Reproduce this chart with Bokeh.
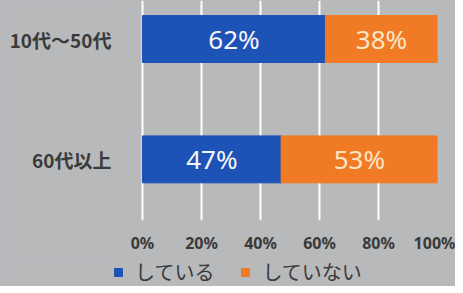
from bokeh.plotting import figure, ColumnDataSource
from bokeh.models import Range1d, FixedTicker, PrintfTickFormatter, Legend, LegendItem
from bokeh.layouts import column
from bokeh.core.properties import value
from bokeh.embed import file_html
from bokeh.resources import INLINE

categories = ["60代以上", "10代〜50代"]
series_names = ["している", "していない"]
doing = [47, 62]
not_doing = [53, 38]
x_ticks = [0, 20, 40, 60, 80, 100]

BG = "#b7b9bb"
BLUE = "#1d52b6"
ORANGE = "#f07b24"

idx = list(range(len(categories)))
src = ColumnDataSource(dict(
    y=idx,
    doing=doing,
    not_doing=not_doing,
    total=[d + n for d, n in zip(doing, not_doing)],
    doing_mid=[d / 2 for d in doing],
    not_mid=[d + n / 2 for d, n in zip(doing, not_doing)],
    doing_lbl=[f"{d}%" for d in doing],
    not_lbl=[f"{n}%" for n in not_doing],
))

# frame spans x=113..437 px so that 0% sits at ~142 px
p = figure(width=455, height=256, output_backend="svg", toolbar_location=None,
           x_range=Range1d(-9.83, 100), y_range=Range1d(-0.508, 1.32),
           min_border_left=113, min_border_right=18, min_border_top=0, min_border_bottom=33)
p.background_fill_color = BG
p.border_fill_color = BG
p.outline_line_color = None

p.hbar(y="y", left=0, right="doing", height=0.39, color=BLUE, source=src)
p.hbar(y="y", left="doing", right="total", height=0.39, color=ORANGE, source=src)

p.text(x="doing_mid", y="y", text="doing_lbl", source=src, text_align="center",
       text_baseline="middle", text_color="#f6f6f6", text_font=value("Noto Sans"),
       text_font_size="26px")
p.text(x="not_mid", y="y", text="not_lbl", source=src, text_align="center",
       text_baseline="middle", text_color="#fbe6c6", text_font=value("Noto Sans"),
       text_font_size="26px")

p.xaxis.ticker = FixedTicker(ticks=x_ticks)
p.xaxis.formatter = PrintfTickFormatter(format="%d%%")
p.xaxis.major_label_text_font = "Noto Sans"
p.xaxis.major_label_text_font_style = "bold"
p.xaxis.major_label_text_font_size = "16px"
p.xaxis.major_label_text_color = "#3a3a3a"
p.xaxis.major_label_standoff = 5

p.yaxis.ticker = FixedTicker(ticks=idx)
p.yaxis.major_label_overrides = {i: c for i, c in zip(idx, categories)}
p.yaxis.major_label_text_font = "Noto Sans CJK JP"
p.yaxis.major_label_text_font_style = "bold"
p.yaxis.major_label_text_font_size = "19px"
p.yaxis.major_label_text_color = "#3a3a3a"
p.yaxis.major_label_standoff = -4

for ax in (p.xaxis, p.yaxis):
    ax.axis_line_color = None
    ax.major_tick_line_color = None
    ax.minor_tick_line_color = None

p.xgrid.grid_line_color = "white"
p.xgrid.grid_line_width = 2
p.ygrid.grid_line_color = None

# legend strip (its bars lie outside its view; only the legend shows)
lg = figure(width=455, height=30, output_backend="svg", toolbar_location=None,
            x_range=Range1d(0, 100), y_range=Range1d(5, 6),
            x_axis_type=None, y_axis_type=None,
            min_border_left=113, min_border_right=18, min_border_top=0, min_border_bottom=0)
lg.background_fill_color = BG
lg.border_fill_color = BG
lg.outline_line_color = None
lg.xgrid.visible = False
lg.ygrid.visible = False
l1 = lg.hbar(y="y", left=0, right="doing", height=0.39, color=BLUE, source=src)
l2 = lg.hbar(y="y", left="doing", right="total", height=0.39, color=ORANGE, source=src)

legend = Legend(items=[LegendItem(label=series_names[0], renderers=[l1]),
                       LegendItem(label=series_names[1], renderers=[l2])],
                orientation="horizontal", location=(0, 0),
                background_fill_alpha=0, border_line_color=None,
                label_text_font="Noto Sans CJK JP", label_text_font_size="20px",
                label_text_color="#3a3a3a", glyph_width=10, glyph_height=10,
                label_standoff=12, spacing=26, padding=0, margin=0)
lg.add_layout(legend, "center")

layout = column(p, lg, spacing=0, styles={"background-color": BG})
open("out.html", "w").write(file_html(layout, INLINE))
